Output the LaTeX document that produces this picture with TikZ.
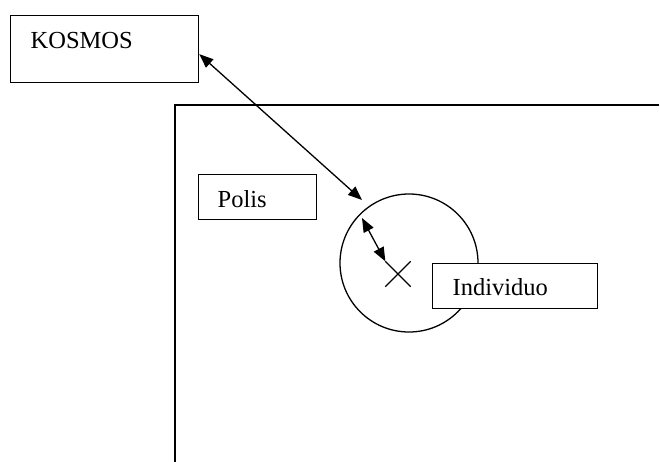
\documentclass[tikz,border=0pt]{standalone}
\usepackage{fontspec}
\setmainfont{Liberation Serif}
\usetikzlibrary{arrows.meta,shapes.misc}

\begin{document}
\begin{tikzpicture}[x=1pt,y=-1pt,line width=1.3pt]
  \tikzstyle{every node}+=[inner sep=0pt]
  \tikzstyle{textbox}=[draw, fill=white, anchor=north west, align=left, font=\fontsize{24.5}{29}\selectfont]
  \tikzstyle{dart}=[{Triangle[length=14pt,width=11pt]}-{Triangle[length=14pt,width=11pt]}]
  \useasboundingbox (0,0) rectangle (660,461);
  % frame of the polis
  \draw (659,105) -- (175,105) -- (175,462);
  \node [textbox, inner xsep=20pt, text width=148pt, text height=32.5pt, text depth=34.5pt] (kosmos) at (10,15) {KOSMOS};
  \node [textbox, inner xsep=19pt, text width=80pt, text height=33pt, text depth=12pt] (polis) at (198,174) {Polis};
  \node [draw, circle, minimum size=138pt] (sphere) at (409,263) {};
  \node [draw, cross out, minimum size=24pt] (self) at (398,274) {};
  \node [textbox, inner xsep=20pt, text width=125pt, text height=32pt, text depth=13pt] (individuo) at (432,263) {Individuo};
  \coordinate (outer) at (362,200);
  \coordinate (inner) at (362,218);
  \draw [dart] ([yshift=-5pt]kosmos.east) -- (outer);
  \draw [dart] (inner) -- (self.north west);
\end{tikzpicture}
\end{document}
